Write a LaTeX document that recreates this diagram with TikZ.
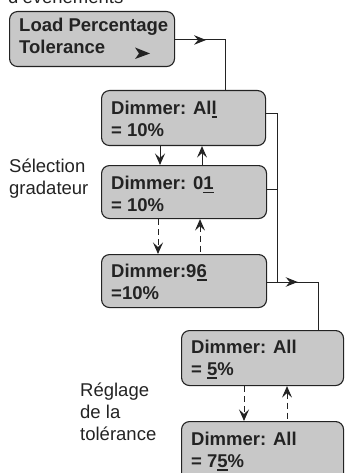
\documentclass[tikz,border=0pt]{standalone}
\usepackage{fontspec}
\setmainfont{Liberation Sans}
\usetikzlibrary{arrows.meta,decorations.markings,calc}
\definecolor{boxfill}{RGB}{200,200,200}
\definecolor{ink}{RGB}{35,35,35}
\newcommand\curs[1]{\setbox0\hbox{#1}\rlap{\rule[-3.6pt]{\wd0}{1.8pt}}\box0}
\begin{document}
\begin{tikzpicture}[x=1pt,y=-1pt,
  box/.style={draw=ink, line width=1.1pt, fill=boxfill, rounded corners=8pt, inner sep=0pt, anchor=north west},
  txt/.style={inner sep=0pt, align=left, anchor=north west, text=ink, font=\fontsize{18.5}{22}\selectfont\bfseries},
  lab/.style={inner sep=0pt, align=left, anchor=north west, text=ink, font=\fontsize{18.5}{22}\selectfont},
  conn/.style={draw=ink, line width=1pt},
  tip/.style={-{Stealth[length=11.5pt,width=10pt,inset=4.5pt]}},
  rtip/.style={{Stealth[length=11.5pt,width=10pt,inset=4.5pt]}-},
  dashln/.style={dash pattern=on 6pt off 4pt},
  midarrow/.style={postaction={decorate}, decoration={markings,
     mark=at position #1 with {\arrow{Stealth[length=12pt,width=9.5pt,inset=4pt]}}}}
]
\useasboundingbox (0,0) rectangle (345,473);

% header text (cut off at the top)
\node[lab, anchor=base west] (hdr) at (8,4) {d’événements};

% boxes
\node[box, minimum width=165pt, minimum height=55pt] (b1) at (9,11) {};
\node[box, minimum width=164pt, minimum height=55pt] (b2) at (101,90) {};
\node[box, minimum width=165pt, minimum height=53pt] (b3) at (101,165) {};
\node[box, minimum width=165pt, minimum height=53pt] (b4) at (101,254) {};
\node[box, minimum width=162pt, minimum height=55pt] (b5) at (181,330) {};
\node[box, minimum width=162pt, minimum height=60pt] (b6) at (181,421) {};

% box texts
\node[txt] (t1) at (19,17.7) {Load Percentage\\Tolerance};
\node[txt] (t2) at (111,100.7) {Dimmer: Al\curs{l}\\= 10\%};
\node[txt] (t3) at (111,176.2) {Dimmer: 0\curs{1}\\= 10\%};
\node[txt] (t4) at (111,263.7) {Dimmer:9\curs{6}\\=10\%};
\node[txt] (t5) at (191,339.7) {Dimmer: All\\= \curs{5}\%};
\node[txt] (t6) at (191,431.7) {Dimmer: All\\= 7\curs{5}\%};

% side labels
\node[lab] (l1) at (9,158.3) {Sélection\\gradateur};
\node[lab] (l2) at (80,383) {Réglage\\de la\\tolérance};

% free arrow glyph inside the first box
\fill[ink] ($(b1.north west)+(126,36.5)$) -- ++(15,6) -- ++(-15,5.5) -- ++(4,-5.5) -- cycle;

% connectors
\draw[conn, midarrow=0.31] ($(b1.north east)+(0,29)$) -| ($(b2.north west)+(124,0)$);
\coordinate (r4) at ($(b4.north east)+(0,28)$);
\draw[conn] ($(b2.north east)+(0,24)$) -- ++(11,0) |- (r4);
\draw[conn] ($(b3.north east)+(0,24)$) -- ++(10,0);
\draw[conn, midarrow=0.31] (r4) -| ($(b5.north west)+(137,0)$);

\draw[conn, tip] ($(b2.south west)+(59,0)$) -- ($(b3.north west)+(59,0)$);
\draw[conn, rtip] ($(b2.south west)+(101,0)$) -- ($(b3.north west)+(101,0)$);

\draw[conn, dashln, tip] ($(b3.south west)+(57,0)$) -- ($(b4.north west)+(57,0)$);
\draw[conn, dashln, rtip] ($(b3.south west)+(99,0)$) -- ($(b4.north west)+(99,0)$);

\draw[conn, dashln, tip] ($(b5.south west)+(63,0)$) -- ($(b6.north west)+(63,0)$);
\draw[conn, dashln, rtip] ($(b5.south west)+(106,0)$) -- ($(b6.north west)+(106,0)$);
\end{tikzpicture}
\end{document}
